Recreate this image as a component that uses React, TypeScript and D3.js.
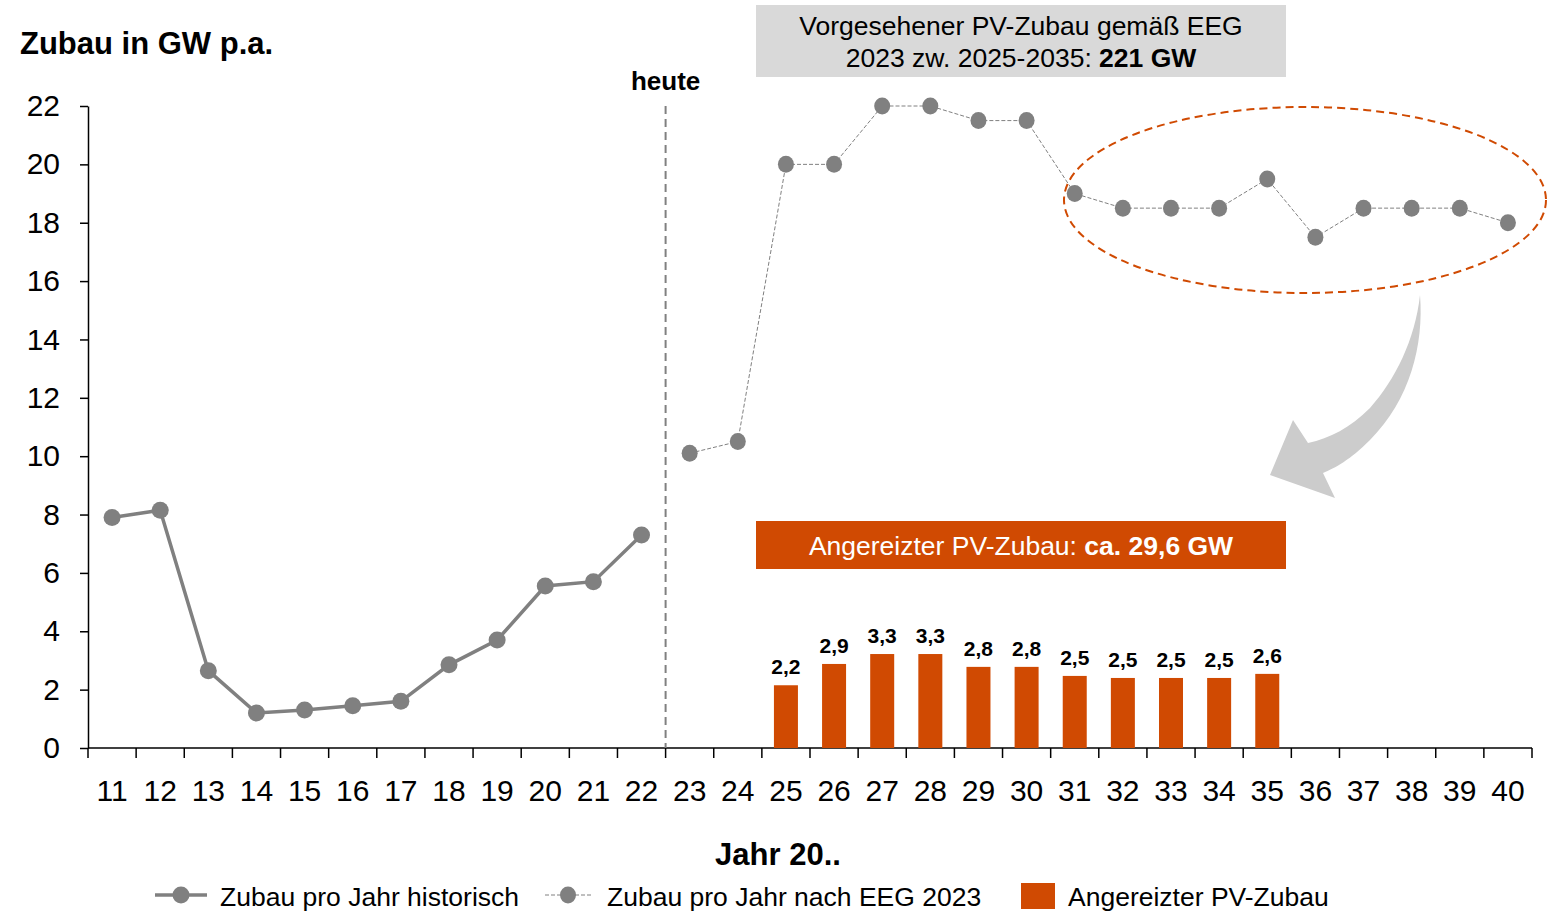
import React, { useEffect, useRef } from 'react';
import * as d3 from 'd3';

const years = d3.range(11, 41).map(String);
const histYears = ['11', '12', '13', '14', '15', '16', '17', '18', '19', '20', '21', '22'];
const histValues = [7.9, 8.15, 2.65, 1.2, 1.3, 1.45, 1.6, 2.85, 3.7, 5.55, 5.7, 7.3];
const eegYears = ['23', '24', '25', '26', '27', '28', '29', '30', '31', '32', '33', '34', '35', '36', '37', '38', '39', '40'];
const eegValues = [10.1, 10.5, 20, 20, 22, 22, 21.5, 21.5, 19, 18.5, 18.5, 18.5, 19.5, 17.5, 18.5, 18.5, 18.5, 18];
const barYears = ['25', '26', '27', '28', '29', '30', '31', '32', '33', '34', '35'];
const barValues = [2.15, 2.88, 3.22, 3.22, 2.78, 2.78, 2.47, 2.4, 2.4, 2.4, 2.54];
const barLabels = ['2,2', '2,9', '3,3', '3,3', '2,8', '2,8', '2,5', '2,5', '2,5', '2,5', '2,6'];
const yTicks = [0, 2, 4, 6, 8, 10, 12, 14, 16, 18, 20, 22];

const GREY = '#808080';
const ORANGE = '#d04a02';
const FONT = 'Liberation Sans, Arial, sans-serif';

export default function App() {
  const ref = useRef<SVGSVGElement>(null);

  useEffect(() => {
    if (!ref.current) return;
    const svg = d3.select(ref.current);
    svg.selectAll('*').remove();

    const left = 88, right = 1532, top = 106, bottom = 748;

    const x = d3.scaleBand().domain(years).range([left, right]);
    const y = d3.scaleLinear().domain([0, 22]).range([bottom, top]);
    const cx = (d: string) => (x(d) ?? 0) + x.bandwidth() / 2;

    // y axis
    const yAxis = svg.append('g')
      .attr('transform', `translate(${left},0)`)
      .call(d3.axisLeft(y).tickValues(yTicks).tickSize(8).tickPadding(20).tickSizeOuter(0));
    yAxis.select('.domain').attr('stroke', '#000').attr('stroke-width', 1.5);
    yAxis.selectAll('line').attr('stroke', '#000').attr('stroke-width', 1.5);
    yAxis.selectAll('text').attr('font-family', FONT).attr('font-size', 30).attr('fill', '#000');

    // x axis with ticks at category boundaries
    const xAxis = svg.append('g').attr('transform', `translate(0,${bottom})`);
    xAxis.append('line').attr('x1', left).attr('x2', right).attr('stroke', '#000').attr('stroke-width', 1.5);
    const bounds = years.map(d => x(d) ?? 0).concat([right]);
    xAxis.selectAll('line.tk').data(bounds).enter().append('line')
      .attr('class', 'tk')
      .attr('x1', d => d).attr('x2', d => d).attr('y1', 0).attr('y2', 10)
      .attr('stroke', '#000').attr('stroke-width', 1.5);
    xAxis.selectAll('text').data(years).enter().append('text')
      .attr('x', d => cx(d)).attr('y', 53)
      .attr('text-anchor', 'middle')
      .attr('font-family', FONT).attr('font-size', 30)
      .text(d => d);

    // today line
    const todayX = x('23') ?? 0;
    svg.append('line')
      .attr('x1', todayX).attr('x2', todayX).attr('y1', top).attr('y2', bottom)
      .attr('stroke', GREY).attr('stroke-width', 2).attr('stroke-dasharray', '8,5');
    svg.append('text')
      .attr('x', todayX).attr('y', 90).attr('text-anchor', 'middle')
      .attr('font-family', FONT).attr('font-size', 26).attr('font-weight', 'bold')
      .text('heute');

    // bars
    svg.selectAll('rect.bar').data(barValues).enter().append('rect')
      .attr('class', 'bar')
      .attr('x', (_, i) => cx(barYears[i]) - 12)
      .attr('width', 24)
      .attr('y', d => y(d))
      .attr('height', d => y(0) - y(d))
      .attr('fill', ORANGE);
    svg.selectAll('text.blab').data(barValues).enter().append('text')
      .attr('class', 'blab')
      .attr('x', (_, i) => cx(barYears[i]))
      .attr('y', d => y(d) - 11)
      .attr('text-anchor', 'middle')
      .attr('font-family', FONT).attr('font-size', 21).attr('font-weight', 'bold')
      .text((_, i) => barLabels[i]);

    // historical line
    const line = d3.line<[string, number]>().x(d => cx(d[0])).y(d => y(d[1]));
    const hist = histYears.map((d, i) => [d, histValues[i]] as [string, number]);
    svg.append('path').attr('d', line(hist)).attr('fill', 'none').attr('stroke', GREY).attr('stroke-width', 3.5);
    svg.selectAll('circle.h').data(hist).enter().append('circle')
      .attr('class', 'h').attr('cx', d => cx(d[0])).attr('cy', d => y(d[1])).attr('r', 8.5).attr('fill', GREY);

    // EEG line
    const eeg = eegYears.map((d, i) => [d, eegValues[i]] as [string, number]);
    svg.append('path').attr('d', line(eeg)).attr('fill', 'none').attr('stroke', GREY)
      .attr('stroke-width', 1).attr('stroke-dasharray', '4,2');
    svg.selectAll('ellipse.e').data(eeg).enter().append('ellipse')
      .attr('class', 'e').attr('cx', d => cx(d[0])).attr('cy', d => y(d[1])).attr('rx', 8).attr('ry', 8.5).attr('fill', GREY);

    // ellipse highlight
    svg.append('ellipse')
      .attr('cx', 1305).attr('cy', 200).attr('rx', 241).attr('ry', 93)
      .attr('fill', 'none').attr('stroke', ORANGE).attr('stroke-width', 2).attr('stroke-dasharray', '8,5');

    // curved arrow
    svg.append('path')
      .attr('d', 'M1420,295 C1424,345 1410,400 1370,440 C1350,460 1335,468 1323,473 L1335,498 L1270,475 L1293,420 L1308,443 C1330,438 1350,428 1370,408 C1395,380 1415,340 1420,295 Z')
      .attr('fill', '#cccccc');

    // grey info box
    svg.append('rect').attr('x', 756).attr('y', 5).attr('width', 530).attr('height', 72).attr('fill', '#d9d9d9');
    const g1 = svg.append('text').attr('x', 1021).attr('text-anchor', 'middle')
      .attr('font-family', FONT).attr('font-size', 26.5);
    g1.append('tspan').attr('x', 1021).attr('y', 35).text('Vorgesehener PV-Zubau gemäß EEG');
    const l2 = g1.append('tspan').attr('x', 1021).attr('y', 67);
    l2.append('tspan').text('2023 zw. 2025-2035: ');
    l2.append('tspan').attr('font-weight', 'bold').text('221 GW');

    // orange info box
    svg.append('rect').attr('x', 756).attr('y', 521).attr('width', 530).attr('height', 48).attr('fill', ORANGE);
    const o1 = svg.append('text').attr('x', 1021).attr('y', 555).attr('text-anchor', 'middle')
      .attr('font-family', FONT).attr('font-size', 26.5).attr('fill', '#fff');
    o1.append('tspan').text('Angereizter PV-Zubau: ');
    o1.append('tspan').attr('font-weight', 'bold').text('ca. 29,6 GW');

    // titles
    svg.append('text').attr('x', 20).attr('y', 54)
      .attr('font-family', FONT).attr('font-size', 31).attr('font-weight', 'bold')
      .text('Zubau in GW p.a.');
    svg.append('text').attr('x', 778).attr('y', 865).attr('text-anchor', 'middle')
      .attr('font-family', FONT).attr('font-size', 31).attr('font-weight', 'bold')
      .text('Jahr 20..');

    // legend
    const lg = svg.append('g').attr('font-family', FONT).attr('font-size', 26.5);
    lg.append('line').attr('x1', 155).attr('x2', 207).attr('y1', 895).attr('y2', 895).attr('stroke', GREY).attr('stroke-width', 3.5);
    lg.append('circle').attr('cx', 181).attr('cy', 895).attr('r', 8.5).attr('fill', GREY);
    lg.append('text').attr('x', 220).attr('y', 906).text('Zubau pro Jahr historisch');
    lg.append('line').attr('x1', 545).attr('x2', 592).attr('y1', 895).attr('y2', 895).attr('stroke', GREY).attr('stroke-width', 1).attr('stroke-dasharray', '4,2');
    lg.append('ellipse').attr('cx', 568).attr('cy', 895).attr('rx', 8).attr('ry', 8.5).attr('fill', GREY);
    lg.append('text').attr('x', 607).attr('y', 906).text('Zubau pro Jahr nach EEG 2023');
    lg.append('rect').attr('x', 1021).attr('y', 883).attr('width', 34).attr('height', 26).attr('fill', ORANGE);
    lg.append('text').attr('x', 1068).attr('y', 906).text('Angereizter PV-Zubau');
  }, []);

  return (
    <div style={{ position: 'absolute', left: 0, top: 0 }}>
      <svg ref={ref} width={1547} height={911} style={{ display: 'block', background: '#fff' }} />
    </div>
  );
}
